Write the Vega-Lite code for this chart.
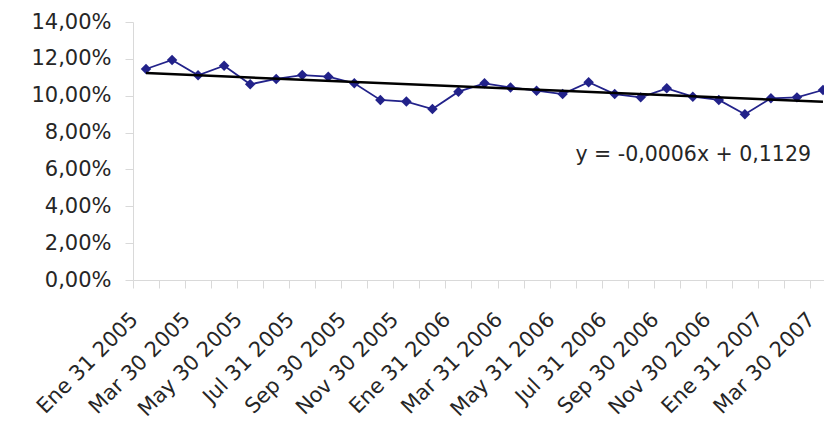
{
  "$schema": "https://vega.github.io/schema/vega-lite/v6.json",
  "autosize": {"type": "none"},
  "padding": {"left": 133, "top": 22, "right": 0, "bottom": 158},
  "width": 691,
  "height": 258,
  "config": {
    "view": {"stroke": null},
    "font": "DejaVu Sans",
    "axis": {
      "labelFont": "DejaVu Sans",
      "labelFontSize": 21,
      "labelColor": "#262626",
      "domainColor": "#d9d9d9",
      "tickColor": "#d9d9d9",
      "gridColor": "#d9d9d9",
      "title": null
    },
    "axisY": {
      "values": [0, 0.02, 0.04, 0.06, 0.08, 0.1, 0.12, 0.14],
      "labelExpr": "replace(format(datum.value, '.2%'), '.', ',')",
      "tickSize": 8,
      "labelPadding": 14,
      "grid": true,
      "gridOpacity": {"condition": {"test": "datum.value > 0.139", "value": 1}, "value": 0}
    }
  },
  "datasets": {
    "tasas": [
      {"fecha": "Ene 31 2005", "tasa": 0.1145, "tendencia": 0.1123},
      {"fecha": "Feb 28 2005", "tasa": 0.1194},
      {"fecha": "Mar 30 2005", "tasa": 0.1111},
      {"fecha": "Abr 29 2005", "tasa": 0.1163},
      {"fecha": "May 30 2005", "tasa": 0.1062},
      {"fecha": "Jun 30 2005", "tasa": 0.1091},
      {"fecha": "Jul 31 2005", "tasa": 0.1112},
      {"fecha": "Ago 31 2005", "tasa": 0.1103},
      {"fecha": "Sep 30 2005", "tasa": 0.1067},
      {"fecha": "Oct 31 2005", "tasa": 0.0977},
      {"fecha": "Nov 30 2005", "tasa": 0.0968},
      {"fecha": "Dic 30 2005", "tasa": 0.0928},
      {"fecha": "Ene 31 2006", "tasa": 0.1022},
      {"fecha": "Feb 28 2006", "tasa": 0.1067},
      {"fecha": "Mar 31 2006", "tasa": 0.1045},
      {"fecha": "Abr 28 2006", "tasa": 0.1027},
      {"fecha": "May 31 2006", "tasa": 0.1009},
      {"fecha": "Jun 30 2006", "tasa": 0.1073},
      {"fecha": "Jul 31 2006", "tasa": 0.1009},
      {"fecha": "Ago 31 2006", "tasa": 0.0991},
      {"fecha": "Sep 30 2006", "tasa": 0.1040},
      {"fecha": "Oct 31 2006", "tasa": 0.0995},
      {"fecha": "Nov 30 2006", "tasa": 0.0977},
      {"fecha": "Dic 29 2006", "tasa": 0.0899},
      {"fecha": "Ene 31 2007", "tasa": 0.0986},
      {"fecha": "Feb 28 2007", "tasa": 0.0991},
      {"fecha": "Mar 30 2007", "tasa": 0.1031, "tendencia": 0.0967}
    ],
    "ecuacion": [
      {"fecha": "Mar 30 2007", "nivel": 0.0676, "texto": "y = -0,0006x + 0,1129"}
    ]
  },
  "layer": [
    {
      "data": {"name": "tasas"},
      "mark": {"type": "line", "color": "#22228a", "strokeWidth": 1.75},
      "encoding": {
        "x": {
          "field": "fecha",
          "type": "nominal",
          "sort": null,
          "scale": {"type": "band", "range": [0, 703], "paddingInner": 0, "paddingOuter": 0},
          "axis": {"orient": "bottom", "labels": false, "tickBand": "extent", "tickSize": 8, "grid": false}
        },
        "y": {"field": "tasa", "type": "quantitative", "scale": {"domain": [0, 0.14], "nice": false, "zero": true}}
      }
    },
    {
      "data": {"name": "tasas"},
      "mark": {"type": "point", "shape": "diamond", "filled": true, "size": 110, "color": "#22228a", "opacity": 1},
      "encoding": {
        "x": {
          "field": "fecha",
          "type": "nominal",
          "sort": null,
          "axis": {
            "orient": "bottom",
            "values": ["Ene 31 2005", "Mar 30 2005", "May 30 2005", "Jul 31 2005", "Sep 30 2005", "Nov 30 2005", "Ene 31 2006", "Mar 31 2006", "May 31 2006", "Jul 31 2006", "Sep 30 2006", "Nov 30 2006", "Ene 31 2007", "Mar 30 2007"],
            "ticks": false,
            "tickSize": 0,
            "domain": false,
            "grid": false,
            "labelAngle": -45,
            "labelAlign": "right",
            "labelBaseline": "middle",
            "labelPadding": 36,
            "labelOffset": -11,
            "labelOverlap": false,
            "labelBound": false
          }
        },
        "y": {"field": "tasa", "type": "quantitative", "scale": {"domain": [0, 0.14], "nice": false, "zero": true}}
      }
    },
    {
      "data": {"name": "tasas"},
      "transform": [{"filter": "isValid(datum.tendencia)"}],
      "mark": {"type": "line", "color": "#000000", "strokeWidth": 2.5},
      "encoding": {
        "x": {"field": "fecha", "type": "nominal", "sort": null, "axis": null},
        "y": {"field": "tendencia", "type": "quantitative", "scale": {"domain": [0, 0.14], "nice": false, "zero": true}}
      }
    },
    {
      "data": {"name": "ecuacion"},
      "mark": {"type": "text", "align": "right", "baseline": "middle", "dx": -12, "fontSize": 20.5, "color": "#262626"},
      "encoding": {
        "x": {"field": "fecha", "type": "nominal", "sort": null, "axis": null},
        "y": {"field": "nivel", "type": "quantitative", "scale": {"domain": [0, 0.14], "nice": false, "zero": true}},
        "text": {"field": "texto"}
      }
    }
  ],
  "resolve": {"axis": {"x": "independent"}}
}
